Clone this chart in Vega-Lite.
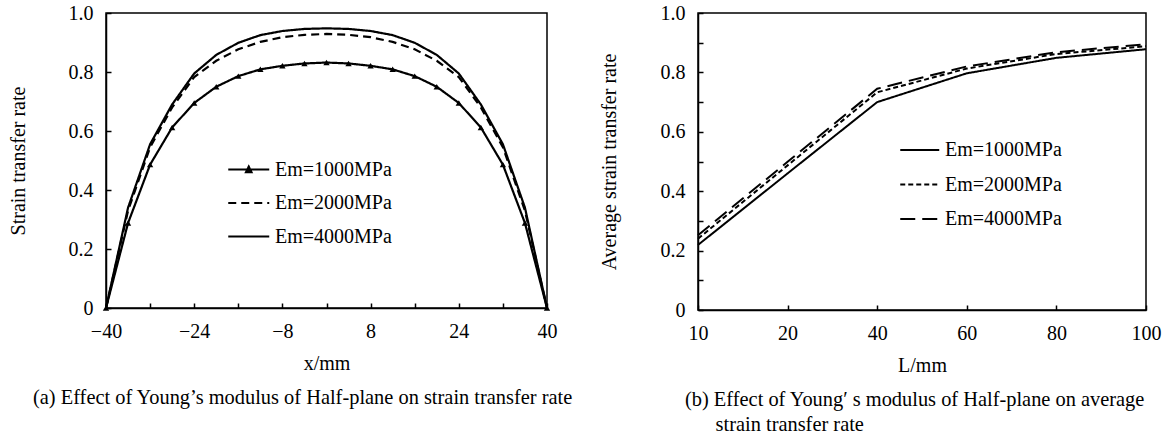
{
  "$schema": "https://vega.github.io/schema/vega-lite/v6.json",
  "autosize": {"type": "pad"},
  "padding": {"left": 7, "top": 2, "right": 5, "bottom": 0},
  "background": "white",
  "bounds": "flush",
  "spacing": 151,
  "resolve": {"scale": {"strokeDash": "independent"}, "legend": {"strokeDash": "independent"}},
  "config": {
    "font": "Liberation Serif",
    "view": {"stroke": "black", "strokeWidth": 1.5},
    "axis": {
      "labelFont": "Liberation Serif", "labelFontSize": 20, "labelColor": "black",
      "titleFont": "Liberation Serif", "titleFontSize": 20, "titleFontWeight": "normal", "titleColor": "black",
      "domainColor": "black", "domainWidth": 1.5, "tickColor": "black", "tickWidth": 1.5,
      "tickSize": -5, "grid": false, "labelPadding": 18
    },
    "legend": {"labelFont": "Liberation Serif", "labelFontSize": 20, "labelColor": "black"},
    "title": {"font": "Liberation Serif", "fontSize": 20, "fontWeight": "normal", "color": "black"}
  },
  "datasets": {
    "left": [
      {"x": -40, "rate": 0, "series": "Em=1000MPa"},
      {"x": -36, "rate": 0.288, "series": "Em=1000MPa"},
      {"x": -32, "rate": 0.486, "series": "Em=1000MPa"},
      {"x": -28, "rate": 0.612, "series": "Em=1000MPa"},
      {"x": -24, "rate": 0.695, "series": "Em=1000MPa"},
      {"x": -20, "rate": 0.75, "series": "Em=1000MPa"},
      {"x": -16, "rate": 0.786, "series": "Em=1000MPa"},
      {"x": -12, "rate": 0.809, "series": "Em=1000MPa"},
      {"x": -8, "rate": 0.821, "series": "Em=1000MPa"},
      {"x": -4, "rate": 0.829, "series": "Em=1000MPa"},
      {"x": 0, "rate": 0.832, "series": "Em=1000MPa"},
      {"x": 4, "rate": 0.829, "series": "Em=1000MPa"},
      {"x": 8, "rate": 0.821, "series": "Em=1000MPa"},
      {"x": 12, "rate": 0.809, "series": "Em=1000MPa"},
      {"x": 16, "rate": 0.786, "series": "Em=1000MPa"},
      {"x": 20, "rate": 0.75, "series": "Em=1000MPa"},
      {"x": 24, "rate": 0.695, "series": "Em=1000MPa"},
      {"x": 28, "rate": 0.612, "series": "Em=1000MPa"},
      {"x": 32, "rate": 0.486, "series": "Em=1000MPa"},
      {"x": 36, "rate": 0.288, "series": "Em=1000MPa"},
      {"x": 40, "rate": 0, "series": "Em=1000MPa"},
      {"x": -40, "rate": 0, "series": "Em=2000MPa"},
      {"x": -36, "rate": 0.33, "series": "Em=2000MPa"},
      {"x": -32, "rate": 0.545, "series": "Em=2000MPa"},
      {"x": -28, "rate": 0.68, "series": "Em=2000MPa"},
      {"x": -24, "rate": 0.783, "series": "Em=2000MPa"},
      {"x": -20, "rate": 0.838, "series": "Em=2000MPa"},
      {"x": -16, "rate": 0.877, "series": "Em=2000MPa"},
      {"x": -12, "rate": 0.902, "series": "Em=2000MPa"},
      {"x": -8, "rate": 0.918, "series": "Em=2000MPa"},
      {"x": -4, "rate": 0.926, "series": "Em=2000MPa"},
      {"x": 0, "rate": 0.929, "series": "Em=2000MPa"},
      {"x": 4, "rate": 0.926, "series": "Em=2000MPa"},
      {"x": 8, "rate": 0.918, "series": "Em=2000MPa"},
      {"x": 12, "rate": 0.902, "series": "Em=2000MPa"},
      {"x": 16, "rate": 0.877, "series": "Em=2000MPa"},
      {"x": 20, "rate": 0.838, "series": "Em=2000MPa"},
      {"x": 24, "rate": 0.783, "series": "Em=2000MPa"},
      {"x": 28, "rate": 0.68, "series": "Em=2000MPa"},
      {"x": 32, "rate": 0.545, "series": "Em=2000MPa"},
      {"x": 36, "rate": 0.33, "series": "Em=2000MPa"},
      {"x": 40, "rate": 0, "series": "Em=2000MPa"},
      {"x": -40, "rate": 0, "series": "Em=4000MPa"},
      {"x": -36, "rate": 0.34, "series": "Em=4000MPa"},
      {"x": -32, "rate": 0.555, "series": "Em=4000MPa"},
      {"x": -28, "rate": 0.69, "series": "Em=4000MPa"},
      {"x": -24, "rate": 0.795, "series": "Em=4000MPa"},
      {"x": -20, "rate": 0.858, "series": "Em=4000MPa"},
      {"x": -16, "rate": 0.899, "series": "Em=4000MPa"},
      {"x": -12, "rate": 0.925, "series": "Em=4000MPa"},
      {"x": -8, "rate": 0.939, "series": "Em=4000MPa"},
      {"x": -4, "rate": 0.946, "series": "Em=4000MPa"},
      {"x": 0, "rate": 0.948, "series": "Em=4000MPa"},
      {"x": 4, "rate": 0.946, "series": "Em=4000MPa"},
      {"x": 8, "rate": 0.939, "series": "Em=4000MPa"},
      {"x": 12, "rate": 0.925, "series": "Em=4000MPa"},
      {"x": 16, "rate": 0.899, "series": "Em=4000MPa"},
      {"x": 20, "rate": 0.858, "series": "Em=4000MPa"},
      {"x": 24, "rate": 0.795, "series": "Em=4000MPa"},
      {"x": 28, "rate": 0.69, "series": "Em=4000MPa"},
      {"x": 32, "rate": 0.555, "series": "Em=4000MPa"},
      {"x": 36, "rate": 0.34, "series": "Em=4000MPa"},
      {"x": 40, "rate": 0, "series": "Em=4000MPa"}
    ],
    "right": [
      {"L": 10, "rate": 0.219, "series": "Em=1000MPa"},
      {"L": 20, "rate": 0.46, "series": "Em=1000MPa"},
      {"L": 40, "rate": 0.70, "series": "Em=1000MPa"},
      {"L": 60, "rate": 0.797, "series": "Em=1000MPa"},
      {"L": 80, "rate": 0.849, "series": "Em=1000MPa"},
      {"L": 100, "rate": 0.878, "series": "Em=1000MPa"},
      {"L": 10, "rate": 0.24, "series": "Em=2000MPa"},
      {"L": 20, "rate": 0.487, "series": "Em=2000MPa"},
      {"L": 40, "rate": 0.733, "series": "Em=2000MPa"},
      {"L": 60, "rate": 0.813, "series": "Em=2000MPa"},
      {"L": 80, "rate": 0.862, "series": "Em=2000MPa"},
      {"L": 100, "rate": 0.888, "series": "Em=2000MPa"},
      {"L": 10, "rate": 0.252, "series": "Em=4000MPa"},
      {"L": 20, "rate": 0.499, "series": "Em=4000MPa"},
      {"L": 40, "rate": 0.745, "series": "Em=4000MPa"},
      {"L": 60, "rate": 0.82, "series": "Em=4000MPa"},
      {"L": 80, "rate": 0.868, "series": "Em=4000MPa"},
      {"L": 100, "rate": 0.895, "series": "Em=4000MPa"}
    ]
  },
  "hconcat": [
    {
      "width": 441,
      "height": 295,
      "title": {
        "text": "(a) Effect of Young’s modulus of Half-plane on strain transfer rate",
        "orient": "bottom", "anchor": "start", "frame": "group", "dx": -73, "offset": 15, "fontSize": 20.4
      },
      "layer": [
        {
          "data": {"name": "left"},
          "mark": {"type": "line", "color": "black", "strokeWidth": 2.2},
          "encoding": {
            "x": {
              "field": "x", "type": "quantitative",
              "scale": {"domain": [-40, 40], "nice": false, "zero": false},
              "axis": {
                "title": "x/mm", "values": [-40, -32, -24, -16, -8, 0, 8, 16, 24, 32, 40],
                "labelExpr": "(datum.value + 40) % 16 == 0 ? datum.label : ''",
                "titlePadding": 12, "labelFlush": false
              }
            },
            "y": {
              "field": "rate", "type": "quantitative",
              "scale": {"domain": [0, 1], "nice": false},
              "axis": {
                "title": "Strain transfer rate",
                "values": [0, 0.1, 0.2, 0.3, 0.4, 0.5, 0.6, 0.7, 0.8, 0.9, 1.0],
                "labelExpr": "round(datum.value * 10) % 2 == 0 ? (datum.value == 0 ? '0' : format(datum.value, '.1f')) : ''",
                "titlePadding": 40
              }
            },
            "strokeDash": {
              "field": "series", "type": "nominal",
              "scale": {"domain": ["Em=1000MPa", "Em=2000MPa", "Em=4000MPa"], "range": [[1, 0], [8, 5], [1, 0]]},
              "legend": {
                "orient": "none", "legendX": 121, "legendY": 145, "title": null,
                "symbolSize": 420, "symbolType": "M-1,0H3", "labelOffset": 25,
                "rowPadding": 11.5, "padding": 0, "symbolStrokeWidth": 2, "symbolStrokeColor": "black",
                "encode": {
                  "symbols": {
                    "update": {
                      "shape": {"signal": "datum.value == 'Em=1000MPa' ? 'M-1,0H3M0.72,0.28L1,-0.3L1.28,0.28Z' : 'M-1,0H3'"},
                      "fill": {"value": "black"},
                      "stroke": {"value": "black"},
                      "strokeWidth": {"value": 2}
                    }
                  }
                }
              }
            }
          }
        },
        {
          "data": {"name": "left"},
          "transform": [{"filter": "datum.series == 'Em=1000MPa'"}],
          "mark": {"type": "point", "shape": "triangle-up", "filled": true, "color": "black", "size": 40, "opacity": 1},
          "encoding": {
            "x": {"field": "x", "type": "quantitative"},
            "y": {"field": "rate", "type": "quantitative"}
          }
        }
      ]
    },
    {
      "width": 448,
      "height": 297,
      "title": {
        "text": ["(b) Effect of Young′ s modulus of Half-plane on average", "\u200b\u00a0\u00a0\u00a0\u00a0\u00a0\u00a0strain transfer rate"],
        "orient": "bottom", "anchor": "start", "frame": "group", "dx": -13, "offset": 15, "lineHeight": 25, "align": "left", "fontSize": 20.4
      },
      "data": {"name": "right"},
      "mark": {"type": "line", "color": "black", "strokeWidth": 2},
      "encoding": {
        "x": {
          "field": "L", "type": "ordinal",
          "scale": {"type": "point", "padding": 0},
          "axis": {"title": "L/mm", "labelAngle": 0, "titlePadding": 12}
        },
        "y": {
          "field": "rate", "type": "quantitative",
          "scale": {"domain": [0, 1], "nice": false},
          "axis": {
            "title": "Average strain transfer rate",
            "values": [0, 0.1, 0.2, 0.3, 0.4, 0.5, 0.6, 0.7, 0.8, 0.9, 1.0],
            "labelExpr": "round(datum.value * 10) % 2 == 0 ? (datum.value == 0 ? '0' : format(datum.value, '.1f')) : ''",
            "titlePadding": 41
          }
        },
        "strokeDash": {
          "field": "series", "type": "nominal",
          "scale": {"domain": ["Em=1000MPa", "Em=2000MPa", "Em=4000MPa"], "range": [[1, 0], [5, 3], [15, 7]]},
          "legend": {
            "orient": "none", "legendX": 201, "legendY": 126, "title": null,
            "symbolSize": 380, "symbolType": "M-1,0H3", "labelOffset": 24,
            "rowPadding": 13.5, "padding": 0, "symbolStrokeWidth": 2, "symbolStrokeColor": "black"
          }
        }
      }
    }
  ]
}
